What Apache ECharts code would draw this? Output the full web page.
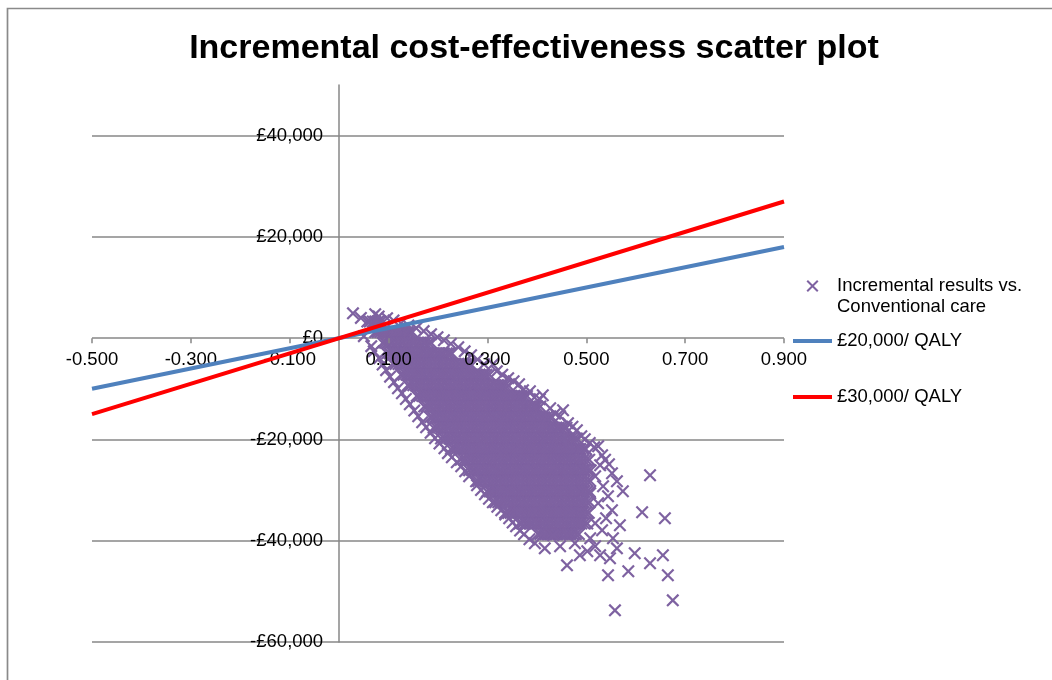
<!DOCTYPE html>
<html>
<head>
<meta charset="utf-8">
<title>Incremental cost-effectiveness scatter plot</title>
<script src="https://cdn.jsdelivr.net/npm/echarts@6/dist/echarts.min.js"></script>
<style>
  html, body { margin: 0; padding: 0; background: #ffffff; }
  #chart { width: 1052px; height: 680px; }
</style>
</head>
<body>
<div id="chart"></div>
<script>
// Probabilistic sensitivity analysis results: incremental QALYs (x) vs incremental cost in £ (y).
// The dense centre of the cloud, one row per cost level: [incremental cost, [incremental QALYs...]]
const coreRows = [
  [3300, [0.057, 0.062, 0.068, 0.073, 0.079, 0.084]],
  [1200, [0.073, 0.078, 0.083, 0.089, 0.094, 0.100, 0.105, 0.111, 0.116, 0.122, 0.127, 0.133, 0.138, 0.143, 0.148]],
  [-900, [0.088, 0.093, 0.098, 0.104, 0.109, 0.115, 0.120, 0.126, 0.131, 0.137, 0.142, 0.148, 0.153, 0.159, 0.164, 0.170, 0.175, 0.181, 0.186]],
  [-3000, [0.097, 0.102, 0.108, 0.113, 0.119, 0.124, 0.130, 0.135, 0.141, 0.146, 0.152, 0.157, 0.163, 0.168, 0.174, 0.179, 0.185, 0.190, 0.196, 0.201, 0.207, 0.212, 0.218, 0.223, 0.228]],
  [-5100, [0.109, 0.114, 0.120, 0.125, 0.131, 0.136, 0.142, 0.147, 0.153, 0.158, 0.164, 0.169, 0.175, 0.180, 0.186, 0.191, 0.197, 0.202, 0.208, 0.213, 0.219, 0.224, 0.230, 0.235, 0.241, 0.246, 0.252, 0.256, 0.261, 0.266]],
  [-7200, [0.125, 0.130, 0.136, 0.141, 0.147, 0.152, 0.158, 0.163, 0.169, 0.174, 0.180, 0.185, 0.191, 0.196, 0.202, 0.207, 0.213, 0.218, 0.224, 0.229, 0.235, 0.240, 0.246, 0.251, 0.257, 0.262, 0.268, 0.273, 0.279, 0.284, 0.290, 0.293, 0.298, 0.304]],
  [-9300, [0.139, 0.144, 0.150, 0.155, 0.161, 0.166, 0.172, 0.177, 0.183, 0.188, 0.194, 0.199, 0.205, 0.210, 0.216, 0.221, 0.227, 0.232, 0.238, 0.243, 0.249, 0.254, 0.260, 0.265, 0.271, 0.276, 0.282, 0.287, 0.293, 0.298, 0.304, 0.309, 0.315, 0.320, 0.326, 0.331, 0.336, 0.342]],
  [-11400, [0.157, 0.162, 0.168, 0.173, 0.179, 0.184, 0.190, 0.195, 0.201, 0.206, 0.212, 0.217, 0.223, 0.228, 0.234, 0.239, 0.245, 0.250, 0.256, 0.261, 0.267, 0.272, 0.278, 0.283, 0.289, 0.294, 0.300, 0.305, 0.311, 0.316, 0.322, 0.327, 0.333, 0.338, 0.344, 0.349, 0.355, 0.360, 0.366, 0.369, 0.374, 0.380]],
  [-13500, [0.172, 0.177, 0.183, 0.188, 0.194, 0.199, 0.205, 0.210, 0.216, 0.221, 0.227, 0.232, 0.238, 0.243, 0.249, 0.254, 0.260, 0.265, 0.271, 0.276, 0.282, 0.287, 0.293, 0.298, 0.304, 0.309, 0.315, 0.320, 0.326, 0.331, 0.337, 0.342, 0.348, 0.353, 0.359, 0.364, 0.370, 0.375, 0.381, 0.386, 0.392, 0.396, 0.401, 0.407]],
  [-15600, [0.184, 0.189, 0.195, 0.200, 0.206, 0.211, 0.217, 0.222, 0.228, 0.233, 0.239, 0.244, 0.250, 0.255, 0.261, 0.266, 0.272, 0.277, 0.283, 0.288, 0.294, 0.299, 0.305, 0.310, 0.316, 0.321, 0.327, 0.332, 0.338, 0.343, 0.349, 0.354, 0.360, 0.365, 0.371, 0.376, 0.382, 0.387, 0.393, 0.398, 0.404, 0.409, 0.415, 0.420, 0.426, 0.431]],
  [-17700, [0.191, 0.197, 0.202, 0.208, 0.213, 0.219, 0.224, 0.230, 0.235, 0.241, 0.246, 0.252, 0.257, 0.263, 0.268, 0.274, 0.279, 0.285, 0.290, 0.296, 0.301, 0.307, 0.312, 0.318, 0.323, 0.329, 0.334, 0.340, 0.345, 0.351, 0.356, 0.362, 0.367, 0.373, 0.378, 0.384, 0.389, 0.395, 0.400, 0.406, 0.411, 0.417, 0.422, 0.428, 0.433, 0.439, 0.444, 0.449, 0.455, 0.460]],
  [-19800, [0.206, 0.212, 0.217, 0.223, 0.228, 0.234, 0.239, 0.245, 0.250, 0.256, 0.261, 0.267, 0.272, 0.278, 0.283, 0.289, 0.294, 0.300, 0.305, 0.311, 0.316, 0.322, 0.327, 0.333, 0.338, 0.344, 0.349, 0.355, 0.360, 0.366, 0.371, 0.377, 0.382, 0.388, 0.393, 0.399, 0.404, 0.410, 0.415, 0.421, 0.426, 0.432, 0.437, 0.443, 0.448, 0.454, 0.459, 0.465, 0.470, 0.476, 0.481]],
  [-21900, [0.226, 0.232, 0.237, 0.243, 0.248, 0.254, 0.259, 0.265, 0.270, 0.276, 0.281, 0.287, 0.292, 0.298, 0.303, 0.309, 0.314, 0.320, 0.325, 0.331, 0.336, 0.342, 0.347, 0.353, 0.358, 0.364, 0.369, 0.375, 0.380, 0.386, 0.391, 0.397, 0.402, 0.408, 0.413, 0.419, 0.424, 0.430, 0.435, 0.441, 0.446, 0.452, 0.457, 0.463, 0.468, 0.474, 0.479, 0.485, 0.488, 0.494, 0.499]],
  [-24000, [0.246, 0.252, 0.257, 0.263, 0.268, 0.274, 0.279, 0.285, 0.290, 0.296, 0.301, 0.307, 0.312, 0.318, 0.323, 0.329, 0.334, 0.340, 0.345, 0.351, 0.356, 0.362, 0.367, 0.373, 0.378, 0.384, 0.389, 0.395, 0.400, 0.406, 0.411, 0.417, 0.422, 0.428, 0.433, 0.439, 0.444, 0.450, 0.455, 0.461, 0.466, 0.472, 0.477, 0.483, 0.488, 0.494, 0.500, 0.506]],
  [-26100, [0.263, 0.269, 0.274, 0.280, 0.285, 0.291, 0.296, 0.302, 0.307, 0.313, 0.318, 0.324, 0.329, 0.335, 0.340, 0.346, 0.351, 0.357, 0.362, 0.368, 0.373, 0.379, 0.384, 0.390, 0.395, 0.401, 0.406, 0.412, 0.417, 0.423, 0.428, 0.434, 0.439, 0.445, 0.450, 0.456, 0.461, 0.467, 0.472, 0.478, 0.483, 0.489, 0.494, 0.497, 0.503, 0.509]],
  [-28200, [0.281, 0.287, 0.292, 0.298, 0.303, 0.309, 0.314, 0.320, 0.325, 0.331, 0.336, 0.342, 0.347, 0.353, 0.358, 0.364, 0.369, 0.375, 0.380, 0.386, 0.391, 0.397, 0.402, 0.408, 0.413, 0.419, 0.424, 0.430, 0.435, 0.441, 0.446, 0.452, 0.457, 0.463, 0.468, 0.474, 0.479, 0.485, 0.490, 0.496, 0.502, 0.508]],
  [-30300, [0.299, 0.305, 0.310, 0.316, 0.321, 0.327, 0.332, 0.338, 0.343, 0.349, 0.354, 0.360, 0.365, 0.371, 0.376, 0.382, 0.387, 0.393, 0.398, 0.404, 0.409, 0.415, 0.420, 0.426, 0.431, 0.437, 0.442, 0.448, 0.453, 0.459, 0.464, 0.470, 0.475, 0.481, 0.486, 0.492, 0.495, 0.501, 0.507]],
  [-32400, [0.316, 0.322, 0.327, 0.333, 0.338, 0.344, 0.349, 0.355, 0.360, 0.366, 0.371, 0.377, 0.382, 0.388, 0.393, 0.399, 0.404, 0.410, 0.415, 0.421, 0.426, 0.432, 0.437, 0.443, 0.448, 0.454, 0.459, 0.465, 0.470, 0.476, 0.481, 0.487, 0.492, 0.495, 0.501, 0.507]],
  [-34500, [0.336, 0.342, 0.347, 0.353, 0.358, 0.364, 0.369, 0.375, 0.380, 0.386, 0.391, 0.397, 0.402, 0.408, 0.413, 0.419, 0.424, 0.430, 0.435, 0.441, 0.446, 0.452, 0.457, 0.463, 0.468, 0.474, 0.479, 0.485, 0.490, 0.493, 0.499, 0.505]],
  [-36600, [0.365, 0.370, 0.376, 0.381, 0.387, 0.392, 0.398, 0.403, 0.409, 0.414, 0.420, 0.425, 0.431, 0.436, 0.442, 0.447, 0.453, 0.458, 0.464, 0.469, 0.475, 0.480, 0.486, 0.490, 0.496, 0.502]],
  [-38700, [0.402, 0.407, 0.413, 0.418, 0.424, 0.429, 0.435, 0.440, 0.446, 0.451, 0.457, 0.462, 0.468, 0.473, 0.479, 0.485]]
];

// Looser simulations along the upper edge of the cloud: [QALY, cost]
const upperEdge = [
  [0.028, 4900], [0.044, 4000], [0.073, 4740], [0.080, 4300], [0.097, 3950], [0.110, 3500],
  [0.125, 2960], [0.140, 2500], [0.156, 1980], [0.171, 1400], [0.186, 790], [0.199, 200],
  [0.212, -400], [0.226, -1100], [0.241, -1780], [0.254, -2600], [0.267, -3360], [0.280, -4200],
  [0.293, -5140], [0.311, -5140], [0.319, -6520], [0.330, -7200], [0.342, -7900], [0.353, -8500],
  [0.364, -9090], [0.372, -10280], [0.386, -10470], [0.395, -11700], [0.412, -11260], [0.406, -12050],
  [0.427, -13830], [0.453, -14230], [0.437, -14900], [0.447, -15410], [0.463, -16800], [0.472, -17500],
  [0.481, -18180], [0.490, -19360], [0.497, -19960], [0.507, -20700], [0.524, -21340], [0.516, -21540],
  [0.532, -23120], [0.538, -24000], [0.546, -24900]
];

// Looser simulations along the lower edge of the cloud
const lowerEdge = [
  [0.050, 400], [0.065, -1580], [0.070, -2600], [0.081, -3950], [0.088, -5200], [0.095, -6320],
  [0.103, -7600], [0.111, -8690], [0.119, -9900], [0.127, -10870], [0.135, -12000], [0.143, -13040],
  [0.152, -14300], [0.160, -15410], [0.168, -16600], [0.176, -17590], [0.185, -18700], [0.194, -19760],
  [0.203, -20800], [0.213, -21740], [0.220, -22700], [0.228, -23510], [0.238, -24500], [0.247, -25290],
  [0.255, -26300], [0.263, -27270], [0.277, -28260], [0.279, -29050], [0.287, -30000], [0.295, -30830],
  [0.303, -31700], [0.311, -32410], [0.320, -33300], [0.328, -33990], [0.336, -34800], [0.344, -35570],
  [0.351, -36400], [0.358, -37150], [0.366, -38000], [0.374, -38730], [0.385, -39700]
];

// Spread of simulations at the high-QALY, low-cost end
const rightCluster = [
  [0.528, -25100], [0.552, -26680], [0.518, -27270], [0.562, -28260], [0.534, -29240], [0.574, -30230],
  [0.508, -30630], [0.544, -31220], [0.524, -32600], [0.552, -33990], [0.540, -35570], [0.518, -36560],
  [0.568, -36950], [0.532, -37940], [0.508, -39520], [0.554, -39520], [0.477, -40510], [0.447, -41100],
  [0.518, -41100], [0.416, -41500], [0.562, -41500], [0.502, -42090], [0.528, -42880], [0.548, -43470],
  [0.433, -38930], [0.396, -40510], [0.487, -42880], [0.461, -44860]
];

// Isolated outlying simulations
const outliers = [
  [0.629, -27070], [0.613, -34380], [0.659, -35570], [0.598, -42480], [0.655, -42880], [0.629, -44460],
  [0.585, -46040], [0.544, -46830], [0.665, -46830], [0.675, -51770], [0.558, -53750]
];

// Willingness-to-pay threshold lines (endpoints at the axis limits)
const wtp20000 = [[-0.5, -10000], [0.9, 18000]];
const wtp30000 = [[-0.5, -15000], [0.9, 27000]];

// Axis ranges and tick values
const qalyRange = [-0.5, 0.9];
const costRange = [-60000, 50000];
const qalyTicks = [-0.5, -0.3, -0.1, 0.1, 0.3, 0.5, 0.7, 0.9];
const costTicks = [-60000, -40000, -20000, 0, 20000, 40000];

const SCATTER_NAME = 'Incremental results vs.\nConventional care';
const WTP20_NAME = '£20,000/ QALY';
const WTP30_NAME = '£30,000/ QALY';

const scatterData = coreRows
  .flatMap(([cost, qalys]) => qalys.map(q => [q, cost]))
  .concat(upperEdge, lowerEdge, rightCluster, outliers);

// "x" marker drawn as a filled outline; the legend version carries an empty point
// below it so the marker lines up with the first line of the two-line label
const CROSS = 'path://M0,1.2L1.2,0L5,3.8L8.8,0L10,1.2L6.2,5L10,8.8L8.8,10L5,6.2L1.2,10L0,8.8L3.8,5Z';
const LEGEND_CROSS = 'path://M0,1.2L1.2,0L5,3.8L8.8,0L10,1.2L6.2,5L10,8.8L8.8,10L5,6.2L1.2,10L0,8.8L3.8,5ZM5,27.5L5,27.5Z';
const FONT = '"Liberation Sans", Arial, sans-serif';
const GRID_GREY = '#878787';

// Plot area
const GRID = { left: 92, right: 268, top: 85, bottom: 38 };
const CHART_W = 1052, CHART_H = 680;
const gridW = CHART_W - GRID.left - GRID.right;
const gridH = CHART_H - GRID.top - GRID.bottom;
// Axes cross at the origin: shift each axis inward from the plot edge to the zero of the other
const yAxisShift = gridW * (0 - qalyRange[0]) / (qalyRange[1] - qalyRange[0]);
const xAxisShift = gridH * (0 - costRange[0]) / (costRange[1] - costRange[0]);

function formatPounds(v) {
  const digits = Math.abs(v).toString().replace(/\B(?=(\d{3})+(?!\d))/g, ',');
  return (v < 0 ? '-' : '') + '£' + digits;
}

const chart = echarts.init(document.getElementById('chart'), null, { renderer: 'canvas' });

chart.setOption({
  backgroundColor: '#ffffff',
  animation: false,
  textStyle: { fontFamily: FONT },
  title: {
    text: 'Incremental cost-effectiveness scatter plot',
    left: 529,
    top: 27,
    textAlign: 'center',
    textStyle: { fontFamily: FONT, fontSize: 34, fontWeight: 'bold', color: '#000000' }
  },
  graphic: [{
    type: 'rect',
    silent: true,
    z: -10,
    shape: { x: 7.5, y: 8.5, width: 1100, height: 740 },
    style: { fill: 'none', stroke: '#8a8a8a', lineWidth: 1.7 }
  }],
  legend: [
    {
      data: [SCATTER_NAME],
      left: 806.5, top: 275.5, padding: 0,
      orient: 'vertical', selectedMode: false,
      icon: LEGEND_CROSS, itemWidth: 39, itemHeight: 33,
      textStyle: { fontFamily: FONT, fontSize: 18.5, lineHeight: 21, color: '#000000' }
    },
    {
      data: [WTP20_NAME],
      left: 793, top: 330.5, padding: 0,
      orient: 'vertical', selectedMode: false,
      icon: 'rect', itemWidth: 39, itemHeight: 4,
      textStyle: { fontFamily: FONT, fontSize: 18.5, lineHeight: 21, color: '#000000' }
    },
    {
      data: [WTP30_NAME],
      left: 793, top: 386.5, padding: 0,
      orient: 'vertical', selectedMode: false,
      icon: 'rect', itemWidth: 39, itemHeight: 4,
      textStyle: { fontFamily: FONT, fontSize: 18.5, lineHeight: 21, color: '#000000' }
    }
  ],
  grid: { left: GRID.left, right: GRID.right, top: GRID.top, bottom: GRID.bottom, containLabel: false },
  xAxis: {
    type: 'value',
    position: 'bottom',
    offset: -xAxisShift,
    min: qalyRange[0], max: qalyRange[1], interval: 0.2,
    z: 2,
    axisLine: { show: true, onZero: false, lineStyle: { color: 'rgba(0,0,0,0)' } },
    axisTick: { show: true, length: 5, customValues: qalyTicks, lineStyle: { color: GRID_GREY, width: 1.5 } },
    axisLabel: {
      customValues: qalyTicks,
      margin: 12,
      fontFamily: FONT, fontSize: 18.5, color: '#000000',
      formatter: v => Number(v).toFixed(3)
    },
    splitLine: { show: false }
  },
  yAxis: {
    type: 'value',
    position: 'left',
    offset: -yAxisShift,
    min: costRange[0], max: costRange[1], interval: 20000,
    z: 0,
    axisLine: { show: true, onZero: false, lineStyle: { color: GRID_GREY, width: 1.5 } },
    axisTick: { show: false },
    axisLabel: {
      customValues: costTicks,
      margin: 16,
      fontFamily: FONT, fontSize: 18.5, color: '#000000',
      formatter: v => formatPounds(v)
    },
    splitLine: {
      show: true, showMaxLine: false,
      lineStyle: { color: [GRID_GREY, GRID_GREY, GRID_GREY, GRID_GREY, GRID_GREY, GRID_GREY, 'rgba(0,0,0,0)'], width: 1.5 }
    }
  },
  series: [
    {
      name: SCATTER_NAME,
      type: 'scatter',
      z: 1,
      silent: true,
      symbol: CROSS,
      symbolSize: 13,
      itemStyle: { color: '#7E62A1', opacity: 1 },
      data: scatterData
    },
    {
      name: WTP20_NAME,
      type: 'line',
      z: 3,
      silent: true,
      symbol: 'none',
      color: '#4F81BD',
      lineStyle: { color: '#4F81BD', width: 4 },
      data: wtp20000
    },
    {
      name: WTP30_NAME,
      type: 'line',
      z: 3,
      silent: true,
      symbol: 'none',
      color: '#FF0000',
      lineStyle: { color: '#FF0000', width: 4 },
      data: wtp30000
    }
  ]
});
</script>
</body>
</html>
